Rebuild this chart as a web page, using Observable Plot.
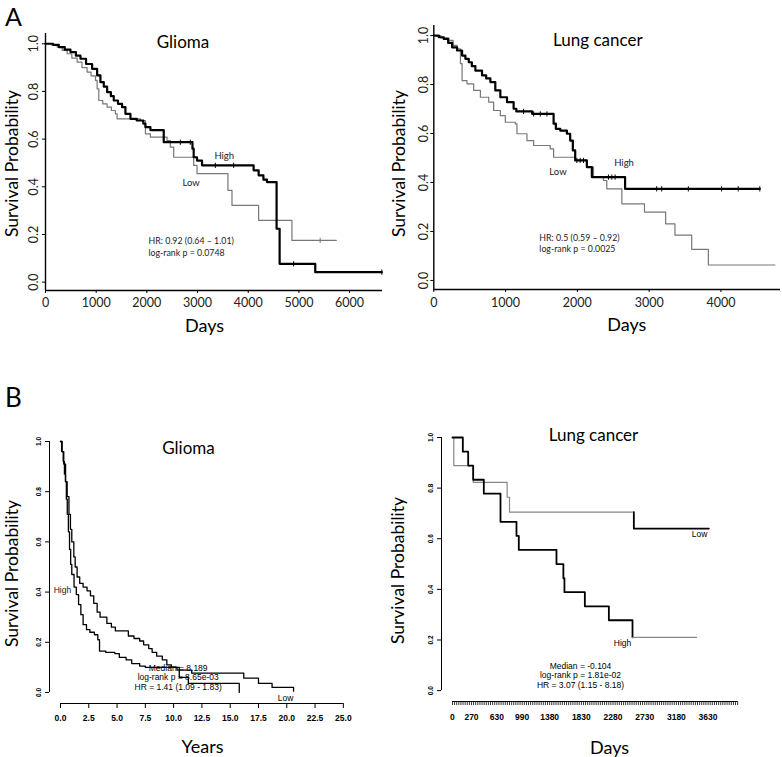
<!DOCTYPE html>
<html><head><meta charset="utf-8">
<script src="https://cdn.jsdelivr.net/npm/d3@7"></script>
<script src="https://cdn.jsdelivr.net/npm/@observablehq/plot@0.6"></script>
<style>
html,body{margin:0;padding:0;background:#fff;}
#fig{position:relative;width:782px;height:757px;overflow:hidden;background:#fff;}
#fig svg{position:absolute;overflow:visible;}
</style></head><body><div id="fig"></div>
<script>
// ---------------- DATA ----------------
// Panel A, Glioma: [days, survival probability]
const gliomaA_high = [[0,1.0],[150,0.995],[263,0.986],[380,0.975],[493,0.965],[600,0.95],[690,0.937],[800,0.915],[920,0.895],[1019,0.867],[1084,0.839],[1150,0.82],[1216,0.797],[1290,0.78],[1347,0.762],[1430,0.748],[1511,0.734],[1577,0.706],[1676,0.685],[1800,0.678],[1930,0.665],[1972,0.65],[2070,0.638],[2333,0.587],[2900,0.56],[2924,0.524],[2990,0.51],[3089,0.49],[4107,0.469],[4206,0.448],[4300,0.43],[4370,0.42],[4560,0.224],[4620,0.077],[5323,0.042],[6637,0.042]];
const gliomaA_low = [[0,1.0],[120,0.995],[230,0.986],[330,0.972],[427,0.958],[520,0.94],[624,0.923],[720,0.9],[821,0.881],[900,0.865],[986,0.846],[1019,0.811],[1052,0.762],[1130,0.748],[1216,0.734],[1300,0.72],[1380,0.706],[1413,0.685],[1873,0.678],[1972,0.622],[2070,0.608],[2399,0.594],[2464,0.566],[2530,0.524],[2924,0.49],[2990,0.455],[3600,0.385],[3680,0.322],[4206,0.259],[4863,0.175],[5737,0.175]];
const gliomaA_highCensor = [[2661,0.587],[2858,0.587],[3352,0.49],[3713,0.49],[4896,0.077],[6637,0.042]];
const gliomaA_lowCensor = [[5420,0.175]];

// Panel A, Lung cancer: [days, survival probability]
const lungA_high = [[0,1.0],[70,0.993],[139,0.986],[200,0.97],[255,0.952],[324,0.939],[394,0.918],[440,0.905],[487,0.891],[530,0.875],[579,0.857],[672,0.837],[730,0.825],[788,0.81],[857,0.776],[927,0.748],[1020,0.728],[1112,0.701],[1150,0.69],[1370,0.68],[1669,0.64],[1700,0.619],[1761,0.612],[1854,0.599],[1900,0.571],[1937,0.531],[1970,0.49],[2132,0.463],[2202,0.422],[2665,0.374],[4542,0.374]];
const lungA_low = [[0,1.0],[100,0.99],[209,0.98],[270,0.96],[324,0.946],[371,0.885],[394,0.816],[463,0.803],[556,0.776],[649,0.748],[765,0.728],[834,0.694],[927,0.673],[996,0.646],[1136,0.639],[1159,0.599],[1298,0.571],[1391,0.551],[1622,0.537],[1669,0.503],[1970,0.49],[2132,0.463],[2225,0.422],[2364,0.408],[2410,0.374],[2620,0.313],[2935,0.279],[3230,0.231],[3360,0.185],[3593,0.127],[3825,0.063],[4752,0.063]];
const lungA_highCensor = [[1251,0.69],[1391,0.68],[1484,0.68],[1576,0.68],[1993,0.49],[2039,0.49],[2086,0.49],[2433,0.422],[2480,0.422],[2526,0.422],[3105,0.374],[3175,0.374],[3546,0.374],[4009,0.374],[4241,0.374],[4542,0.374]];

// Panel B, Glioma: [years, survival probability]
const gliomaB_high = [[0,1.0],[0.1,0.96],[0.24,0.92],[0.35,0.87],[0.44,0.84],[0.52,0.77],[0.6,0.71],[0.7,0.64],[0.8,0.57],[0.9,0.51],[1.0,0.47],[1.2,0.42],[1.4,0.39],[1.6,0.35],[1.8,0.31],[2.0,0.27],[2.3,0.25],[2.6,0.24],[3.0,0.23],[3.3,0.21],[3.45,0.165],[4.0,0.16],[4.8,0.155],[5.2,0.14],[5.8,0.13],[6.3,0.115],[7.0,0.105],[7.5,0.1],[10.5,0.06],[11.3,0.036],[15.8,0.0]];
const gliomaB_low = [[0,1.0],[0.15,0.96],[0.29,0.91],[0.45,0.84],[0.59,0.78],[0.75,0.71],[0.88,0.65],[1.0,0.6],[1.18,0.54],[1.3,0.5],[1.47,0.46],[1.7,0.435],[2.0,0.42],[2.35,0.405],[2.65,0.385],[2.94,0.355],[3.24,0.32],[3.5,0.3],[4.1,0.275],[4.5,0.26],[4.85,0.245],[6.0,0.225],[6.5,0.215],[7.0,0.205],[7.35,0.19],[7.8,0.175],[8.1,0.16],[8.5,0.145],[9.0,0.13],[9.4,0.11],[9.8,0.1],[10.3,0.089],[11.6,0.077],[16.2,0.057],[17.5,0.036],[18.7,0.02],[20.6,0.005]];

// Panel B, Lung cancer: [days, survival probability]
const lungB_high = [[0,1.0],[147,0.944],[223,0.889],[294,0.833],[445,0.778],[682,0.667],[909,0.611],[942,0.556],[1477,0.5],[1575,0.444],[1590,0.389],[1880,0.333],[2221,0.278],[2557,0.21]];
const lungB_highTail = [[2557,0.21],[3466,0.21]];
const lungB_low = [[0,1.0],[19,0.889],[294,0.823],[776,0.764],[810,0.705],[2576,0.705]];
const lungB_lowTail = [[2576,0.705],[2576,0.64],[3641,0.64]];

// Ticks
const probTicks = [0, 0.2, 0.4, 0.6, 0.8, 1.0];
const daysTicksA1 = [0, 1000, 2000, 3000, 4000, 5000, 6000];
const daysTicksA2 = [0, 1000, 2000, 3000, 4000];
const yearsTicksB1 = [0, 2.5, 5, 7.5, 10, 12.5, 15, 17.5, 20, 22.5, 25];
const daysLabelsB2 = [0, 270, 630, 990, 1380, 1830, 2280, 2730, 3180, 3630];
const daysMinorB2 = d3.range(0, 4051, 30);

// ---------------- HELPERS ----------------
const rows = arr => arr.map(([t, s]) => ({t, s}));
const km = (arr, o) => Plot.line(rows(arr), {x: "t", y: "s", curve: "step-after", ...o});
const vtick = {draw(ctx, size) { const h = Math.sqrt(size / Math.PI); ctx.moveTo(0, -h); ctx.lineTo(0, h); }};
const censor = (arr, o) => Plot.dot(rows(arr), {x: "t", y: "s", symbol: vtick, r: 2.6, fill: "none", stroke: "#000", strokeWidth: 1, ...o});
const CAL = "Lato, 'Open Sans', sans-serif";
const HEL = "'Liberation Sans', Arial, sans-serif";
const fig = document.getElementById("fig");
function place(svg, left, top) { svg.style.left = left + "px"; svg.style.top = top + "px"; fig.appendChild(svg); }
const dfmt = d3.format("d");
// frame-anchored label helper (centred text)
const lab = (s, o) => Plot.text([s], {textAnchor: "middle", lineAnchor: "middle", fill: "#000", ...o});

// ---------------- PANEL A1: Glioma ----------------
{
  const xd = [0, 6650], yd = [-0.035, 1.043];
  const p = Plot.plot({
    width: 391, height: 340, marginLeft: 45, marginRight: 9, marginTop: 33, marginBottom: 50,
    x: {domain: xd}, y: {domain: yd},
    style: {fontFamily: CAL, color: "#000", background: "transparent"},
    marks: [
      Plot.ruleX([xd[0]], {stroke: "#000", strokeWidth: 1.4}),
      Plot.ruleY([yd[0]], {stroke: "#000", strokeWidth: 1.4}),
      Plot.axisX({ticks: daysTicksA1, tickFormat: dfmt, tickSize: 3, tickPadding: 4.5, fontSize: 12.5, fill: "#222", label: null}),
      Plot.axisY({ticks: probTicks, tickFormat: ".1f", tickSize: 3, tickRotate: -90, tickPadding: 4.5, fontSize: 12.5, fill: "#222", label: null}),
      km(gliomaA_low, {stroke: "#777", strokeWidth: 1.2}),
      km(gliomaA_high, {stroke: "#000", strokeWidth: 2.2}),
      censor(gliomaA_lowCensor, {stroke: "#777"}),
      censor(gliomaA_highCensor),
      Plot.text(["High"], {x: 3333, y: 0.531, textAnchor: "start", fontSize: 9.5, fill: "#222"}),
      Plot.text(["Low"], {x: 2702, y: 0.418, textAnchor: "start", fontSize: 9.5, fill: "#222"}),
      Plot.text(["HR: 0.92 (0.64 \u2013 1.01)"], {x: 2032, y: 0.171, textAnchor: "start", fontSize: 8.8, fill: "#222"}),
      Plot.text(["log-rank p = 0.0748"], {x: 2032, y: 0.12, textAnchor: "start", fontSize: 8.8, fill: "#222"}),
      lab("Glioma", {frameAnchor: "top-left", dx: 137.5, dy: 9, fontSize: 17}),
      lab("Days", {frameAnchor: "bottom-left", dx: 159, dy: 36, fontSize: 18}),
      lab("Survival Probability", {frameAnchor: "left", rotate: -90, dx: -33, dy: 1.5, fontSize: 17.5}),
      lab("A", {frameAnchor: "top-left", dx: -32, dy: -16, fontSize: 25})
    ]
  });
  place(p, 0, 0);
}

// ---------------- PANEL A2: Lung cancer ----------------
{
  const xd = [0, 4830], yd = [-0.037, 1.041];
  const p = Plot.plot({
    width: 391, height: 340, marginLeft: 42.3, marginRight: 2, marginTop: 25, marginBottom: 51,
    x: {domain: xd}, y: {domain: yd},
    style: {fontFamily: CAL, color: "#000", background: "transparent"},
    marks: [
      Plot.ruleX([xd[0]], {stroke: "#000", strokeWidth: 1.4}),
      Plot.ruleY([yd[0]], {stroke: "#000", strokeWidth: 1.4}),
      Plot.axisX({ticks: daysTicksA2, tickFormat: dfmt, tickSize: 3, tickPadding: 5.5, fontSize: 12.5, fill: "#222", label: null}),
      Plot.axisY({ticks: probTicks, tickFormat: ".1f", tickSize: 3, tickRotate: -90, tickPadding: 3, fontSize: 12.5, fill: "#222", label: null}),
      km(lungA_low, {stroke: "#777", strokeWidth: 1.2}),
      km(lungA_high, {stroke: "#000", strokeWidth: 2.2}),
      censor(lungA_highCensor),
      Plot.text(["High"], {x: 2513, y: 0.478, textAnchor: "start", fontSize: 9.5, fill: "#222"}),
      Plot.text(["Low"], {x: 1609, y: 0.445, textAnchor: "start", fontSize: 9.5, fill: "#222"}),
      Plot.text(["HR: 0.5 (0.59 \u2013 0.92)"], {x: 1470, y: 0.171, textAnchor: "start", fontSize: 8.8, fill: "#222"}),
      Plot.text(["log-rank p = 0.0025"], {x: 1470, y: 0.127, textAnchor: "start", fontSize: 8.8, fill: "#222"}),
      lab("Lung cancer", {frameAnchor: "top-left", dx: 164, dy: 15, fontSize: 17}),
      lab("Days", {frameAnchor: "bottom-left", dx: 193, dy: 36, fontSize: 18}),
      lab("Survival Probability", {frameAnchor: "left", rotate: -90, dx: -34, dy: 6, fontSize: 17.5})
    ]
  });
  place(p, 391, 0);
}

// ---------------- PANEL B1: Glioma (years) ----------------
{
  const xd = [-0.97, 27.4], yd = [-0.044, 1];
  const p = Plot.plot({
    width: 391, height: 417, marginLeft: 49, marginRight: 21, marginTop: 101, marginBottom: 54,
    x: {domain: xd}, y: {domain: yd},
    style: {fontFamily: HEL, color: "#000", background: "transparent"},
    marks: [
      Plot.ruleX([xd[0]], {y1: probTicks[0], y2: probTicks[probTicks.length - 1], stroke: "#000", strokeWidth: 1}),
      Plot.ruleY([yd[0]], {x1: yearsTicksB1[0], x2: yearsTicksB1[yearsTicksB1.length - 1], stroke: "#000", strokeWidth: 1}),
      Plot.axisX({ticks: yearsTicksB1, tickFormat: ".1f", tickSize: 5, tickPadding: 6.5, fontSize: 8.5, fontWeight: "bold", label: null}),
      Plot.axisY({ticks: probTicks, tickFormat: ".1f", tickSize: 4, tickRotate: -90, tickPadding: 5, fontSize: 6.5, fontWeight: "bold", label: null}),
      km(gliomaB_low, {stroke: "#000", strokeWidth: 1.3}),
      km(gliomaB_high, {stroke: "#000", strokeWidth: 1.3}),
      Plot.text(["High"], {x: -0.6, y: 0.406, textAnchor: "start", fontSize: 8.5, fill: "#222"}),
      Plot.text(["Low"], {x: 19.9, y: -0.024, fontSize: 8.5}),
      Plot.text(["Median = 8.189"], {x: 10.4, y: 0.096, fontSize: 8.5}),
      Plot.text(["log-rank p = 8.65e-03"], {x: 10.4, y: 0.06, fontSize: 8.5}),
      Plot.text(["HR = 1.41 (1.09 - 1.83)"], {x: 10.4, y: 0.02, fontSize: 8.5}),
      lab("Glioma", {frameAnchor: "top-left", dx: 139, dy: 7, fontSize: 17, fontFamily: CAL}),
      lab("Years", {frameAnchor: "top-left", dx: 153, dy: 306, fontSize: 18, fontFamily: CAL}),
      lab("Survival Probability", {frameAnchor: "left", rotate: -90, dx: -37, dy: 1, fontSize: 17.5, fontFamily: CAL}),
      lab("B", {frameAnchor: "top-left", dx: -36, dy: -43, fontSize: 26, fontFamily: CAL})
    ]
  });
  place(p, 0, 340);
}

// ---------------- PANEL B2: Lung cancer (days) ----------------
{
  const xd = [-156, 4531], yd = [-0.043, 1];
  const p = Plot.plot({
    width: 391, height: 417, marginLeft: 50, marginRight: 11, marginTop: 97, marginBottom: 56,
    x: {domain: xd}, y: {domain: yd},
    style: {fontFamily: HEL, color: "#000", background: "transparent"},
    marks: [
      Plot.ruleX([xd[0]], {y1: probTicks[0], y2: probTicks[probTicks.length - 1], stroke: "#000", strokeWidth: 1}),
      Plot.ruleY([yd[0]], {x1: daysMinorB2[0], x2: daysMinorB2[daysMinorB2.length - 1], stroke: "#000", strokeWidth: 1}),
      Plot.axisX({ticks: daysMinorB2, tickFormat: () => "", tickSize: 4, strokeWidth: 0.8, label: null}),
      Plot.axisX({ticks: daysLabelsB2, tickFormat: dfmt, tickSize: 0, tickPadding: 12, fontSize: 8.5, fontWeight: "bold", label: null}),
      Plot.axisY({ticks: probTicks, tickFormat: ".1f", tickSize: 4, tickRotate: -90, tickPadding: 4.6, fontSize: 6.5, fontWeight: "bold", label: null}),
      km(lungB_low, {stroke: "#888", strokeWidth: 1.2}),
      km(lungB_lowTail, {stroke: "#000", strokeWidth: 1.8}),
      km(lungB_high, {stroke: "#000", strokeWidth: 1.8}),
      km(lungB_highTail, {stroke: "#888", strokeWidth: 1.2}),
      Plot.text(["Low"], {x: 3509, y: 0.617, fontSize: 8.5}),
      Plot.text(["High"], {x: 2415, y: 0.186, fontSize: 8.5}),
      Plot.text(["Median = -0.104"], {x: 1818, y: 0.095, fontSize: 8.5}),
      Plot.text(["log-rank p = 1.81e-02"], {x: 1818, y: 0.059, fontSize: 8.5}),
      Plot.text(["HR = 3.07 (1.15 - 8.18)"], {x: 1818, y: 0.02, fontSize: 8.5}),
      lab("Lung cancer", {frameAnchor: "top-left", dx: 152, dy: -2, fontSize: 17, fontFamily: CAL}),
      lab("Days", {frameAnchor: "top-left", dx: 168, dy: 311, fontSize: 18, fontFamily: CAL}),
      lab("Survival Probability", {frameAnchor: "left", rotate: -90, dx: -43, dy: 1, fontSize: 17.5, fontFamily: CAL})
    ]
  });
  place(p, 391, 340);
}
</script>
</body></html>
